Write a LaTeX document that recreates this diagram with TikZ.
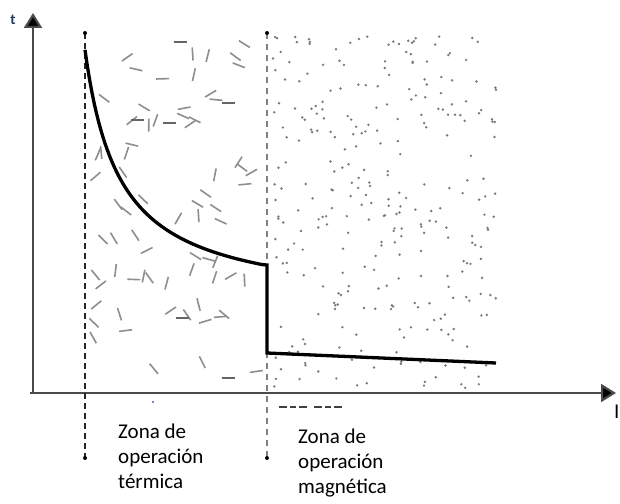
\documentclass[tikz,border=0pt]{standalone}
\usepackage{fontspec}
\setmainfont{Carlito}
\usetikzlibrary{arrows.meta}
\definecolor{axisgray}{HTML}{4A4A4A}
\definecolor{dashgray}{HTML}{8E8E8E}
\definecolor{dotgray}{HTML}{7A7A7A}
\definecolor{tblue}{HTML}{1F3A66}
\tikzset{
  axisline/.style={draw=axisgray,line width=2.2pt,-{Triangle[width=18pt,length=15pt,fill=black]}},
  zoneline/.style={draw=black!85,line width=1.9pt,dash pattern=on 6pt off 4pt},
  zoneline2/.style={draw=gray,line width=1.9pt,dash pattern=on 6pt off 5pt},
  texdash/.style={draw=dashgray,line width=1.6pt},
  darkdash/.style={draw=gray!80!black,line width=2.4pt},
  curveline/.style={draw=black,line width=3.3pt,line join=miter},
  zonelabel/.style={font=\fontsize{21}{25}\selectfont,align=left,anchor=base west,inner sep=0pt},
}
\begin{document}
\begin{tikzpicture}[x=1pt,y=-1pt]
\useasboundingbox[fill=white] (0,0) rectangle (620,503);
% texture: thermal zone (short strokes)
\pgfmathsetseed{11}
\foreach \i in {1,...,72}{
  \pgfmathsetmacro\px{93+166*rnd}
  \pgfmathsetmacro\py{42+338*rnd}
  \pgfmathsetmacro\pa{180*rnd}
  \draw[texdash] (\px,\py) +(\pa:-6.5) -- +(\pa:6.5);
}
\foreach \p in {(180,42),(228,103),(137,120),(169,123),(182,318),(228,378)}{
  \draw[darkdash] \p +(-6.5,0) -- +(6.5,0);
}
% texture: magnetic zone (dots)
\foreach \i in {1,...,300}{
  \pgfmathsetmacro\px{273+225*rnd}
  \pgfmathsetmacro\py{36+352*rnd}
  \fill[dotgray] (\px,\py) circle (1.35pt);
}
% axes
\coordinate (O) at (30,393);
\coordinate (yb) at (33,394);
\coordinate (ytip) at (33,13);
\coordinate (xtip) at (616,393);
\draw[axisline] (yb) -- (ytip);
\draw[axisline] (O) -- (xtip);
\node[text=tblue,font=\fontsize{15}{15}\selectfont\bfseries,inner sep=0pt] (tlab) at (13,20) {t};
\node[font=\fontsize{21}{21}\selectfont,anchor=base west,inner sep=0pt] (ilab) at (614,418) {I};
% zone boundaries
\coordinate (L1) at (85,33);
\coordinate (L2) at (85,458);
\coordinate (R1) at (267,33);
\coordinate (R2) at (267,458);
\draw[zoneline] (L1) -- (L2);
\draw[zoneline2] (R1) -- (R2);
\fill (L1) circle (2pt);
\fill (L2) circle (2pt);
\fill (R1) circle (2pt);
\fill (R2) circle (2pt);
% trip curve
\coordinate (k1) at (267,265);
\coordinate (k2) at (267,353);
\coordinate (k3) at (496,363);
\draw[curveline] plot[domain=85:262,samples=80] (\x,{393-(86+9000/(\x-50))}) -- (k1) -- (k2) -- (k3);
% fragment below axis
\coordinate (f1) at (279,407);
\coordinate (f2) at (348,407);
\draw[draw=black!75,line width=2pt,dash pattern=on 8pt off 3pt on 6pt off 3pt on 8pt off 7pt] (f1) -- (f2);
\fill[blue!30!gray] (153,402) circle (1.2pt);
% labels
\node[zonelabel] (thermal) at (118,488) {Zona de\\operación\\térmica};
\node[zonelabel] (magnetic) at (298,493) {Zona de\\operación\\magnética};
\end{tikzpicture}
\end{document}
